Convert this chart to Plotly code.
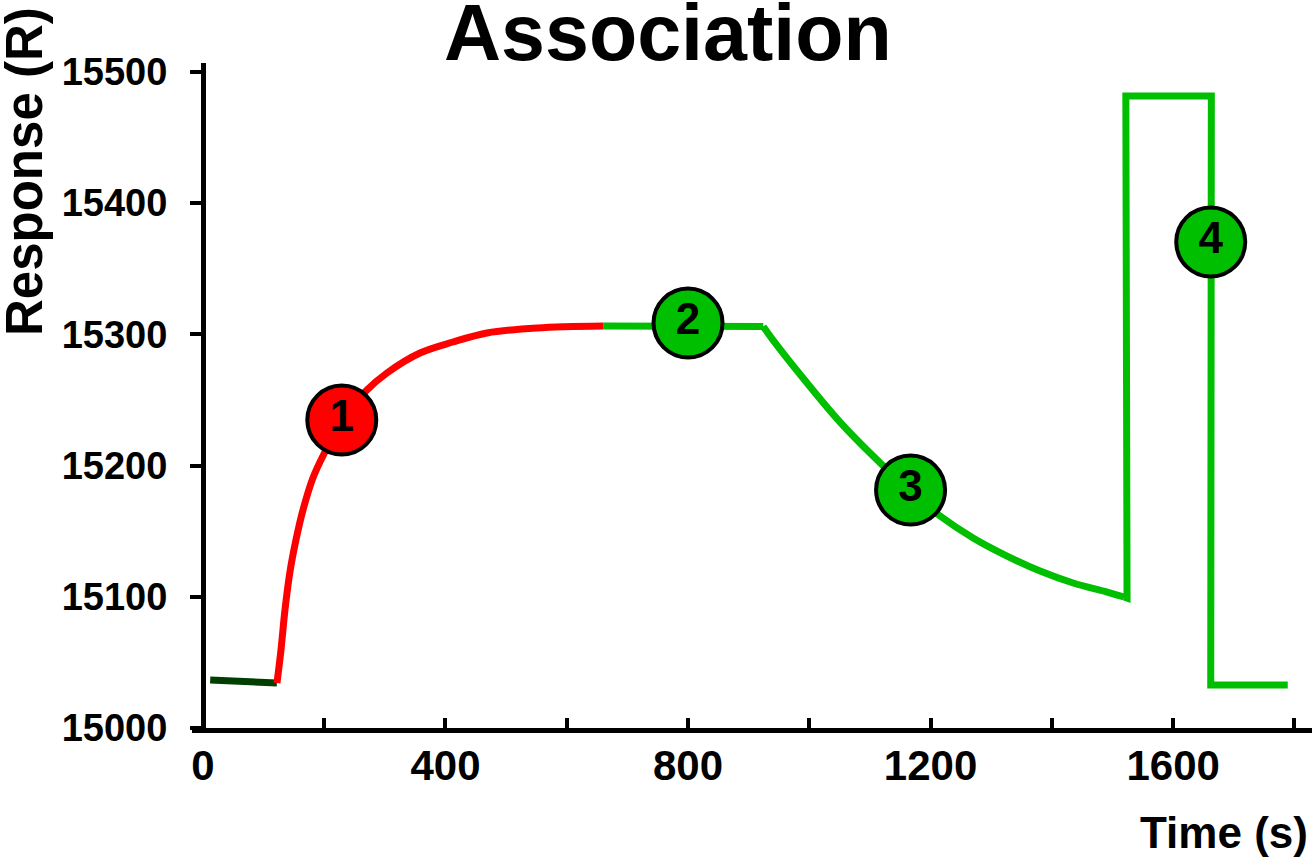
import plotly.graph_objects as go

# ---- data ----
baseline_t = [12, 122]
baseline_r = [15036.6, 15034.3]

assoc_t = [122.1, 128.7, 135.3, 143.5, 153.4, 165.0, 181.4, 201.2, 229.3, 270.5,
           303.5, 358.0, 412.4, 468.5, 551.0, 660.0]
assoc_r = [15034.3, 15059.4, 15089.9, 15118.9, 15143.2, 15166.1, 15190.5, 15210.3,
           15234.7, 15257.5, 15270.5, 15285.7, 15294.1, 15301.0, 15304.8, 15306.3]

stable_t = [660, 924]
stable_r = [15306.3, 15306.0]

dissoc_t = [924, 940.2, 996.3, 1050.7, 1105.2, 1166.2, 1215.7, 1270.1, 1326.2,
            1380.6, 1435.1, 1491.1, 1519.2]
dissoc_r = [15306.0, 15295.6, 15262.9, 15233.1, 15207.2, 15180.6, 15161.5, 15144.8,
            15131.0, 15119.6, 15110.5, 15103.6, 15099.8]

regen_t = [1519.2, 1524, 1522, 1663, 1662, 1789]
regen_r = [15099.8, 15099.0, 15481.5, 15481.5, 15032.8, 15032.8]

label_t = [229, 800, 1167, 1662]
label_r = [15234.7, 15308.6, 15181.3, 15370.3]
label_text = ["1", "2", "3", "4"]
label_colors = ["#FF0000", "#00BF00", "#00BF00", "#00BF00"]

x_tickvals = [0, 200, 400, 600, 800, 1000, 1200, 1400, 1600, 1800]
x_ticktext = ["0", "", "400", "", "800", "", "1200", "", "1600", ""]
y_tickvals = [15000, 15100, 15200, 15300, 15400, 15500]
y_ticktext = ["15000", "15100", "15200", "15300", "15400", "15500"]

FONT = "Liberation Sans, Arial, sans-serif"
GREEN = "#00BF00"

fig = go.Figure()
fig.add_trace(go.Scatter(x=baseline_t, y=baseline_r, mode="lines",
                         line=dict(color="#003F00", width=7), hoverinfo="skip"))
fig.add_trace(go.Scatter(x=assoc_t, y=assoc_r, mode="lines",
                         line=dict(color="#FF0000", width=7, shape="spline", smoothing=1),
                         hoverinfo="skip"))
fig.add_trace(go.Scatter(x=stable_t, y=stable_r, mode="lines",
                         line=dict(color=GREEN, width=7), hoverinfo="skip"))
fig.add_trace(go.Scatter(x=dissoc_t, y=dissoc_r, mode="lines",
                         line=dict(color=GREEN, width=7, shape="spline", smoothing=1),
                         hoverinfo="skip"))
fig.add_trace(go.Scatter(x=regen_t, y=regen_r, mode="lines",
                         line=dict(color=GREEN, width=7), hoverinfo="skip"))
fig.add_trace(go.Scatter(x=label_t, y=label_r, mode="markers+text",
                         text=label_text, textposition="middle center",
                         textfont=dict(family=FONT, size=44, color="black", weight="bold"),
                         marker=dict(size=69, color=label_colors,
                                     line=dict(color="black", width=4)),
                         hoverinfo="skip"))

fig.update_layout(
    width=1315, height=858,
    margin=dict(l=192, r=3, t=63, b=130, autoexpand=False),
    paper_bgcolor="white", plot_bgcolor="white",
    showlegend=False,
    font=dict(family=FONT, color="black"),
    xaxis=dict(range=[-18, 1829], showgrid=False, zeroline=False, automargin=False,
               showline=True, linecolor="black", linewidth=5,
               ticks="inside", ticklen=10, tickwidth=4, tickcolor="black",
               tickvals=x_tickvals, ticktext=x_ticktext,
               tickfont=dict(family=FONT, size=42, color="black", weight="bold"),
               ticklabelstandoff=-3),
    yaxis=dict(range=[15000, 15506.7], showgrid=False, zeroline=False, automargin=False,
               showline=True, linecolor="black", linewidth=5,
               anchor="free", position=18 / 1847,
               ticks="outside", ticklen=11, tickwidth=4, tickcolor="black",
               tickvals=y_tickvals, ticktext=y_ticktext,
               tickfont=dict(family=FONT, size=38, color="black", weight="bold"),
               ticklabelstandoff=15),
    annotations=[
        dict(text="Association", xref="paper", yref="paper",
             x=(668 - 192) / 1120, y=(728 - 33) / 665,
             xanchor="center", yanchor="middle", showarrow=False,
             font=dict(family=FONT, size=79, color="black", weight="bold")),
        dict(text="Time (s)", xref="paper", yref="paper",
             x=(1310 - 192) / 1120, y=(728 - 832) / 665,
             xanchor="right", yanchor="middle", showarrow=False,
             font=dict(family=FONT, size=44, color="black", weight="bold")),
        dict(text="Response (R)", xref="paper", yref="paper",
             x=(24 - 192) / 1120, y=(728 - 172) / 665,
             xanchor="center", yanchor="middle", showarrow=False, textangle=-90,
             font=dict(family=FONT, size=51, color="black", weight="bold")),
    ],
)

fig.write_html("out.html", config={"displayModeBar": False},
               post_script="document.body.style.margin='0';document.body.style.overflow='hidden';")
